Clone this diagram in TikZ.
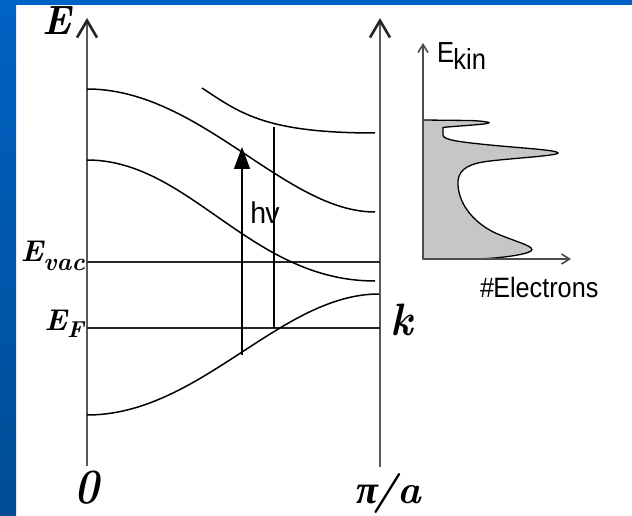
\documentclass[tikz,border=0pt]{standalone}
\usepackage{fontspec}
\setsansfont{Liberation Sans}
\newfontfamily\grkfont{Liberation Serif}
\usetikzlibrary{arrows.meta}
\definecolor{bluetop}{RGB}{0,98,196}
\definecolor{bluebot}{RGB}{0,76,148}
\definecolor{histfill}{RGB}{198,198,198}
\newcommand{\fsz}[1]{\fontsize{#1}{#1}\selectfont}
\begin{document}
\begin{tikzpicture}[x=1pt,y=-1pt,
  axisline/.style={line width=2pt,draw=black!65},
  axtip/.style={-{Straight Barb[length=17pt,width=20pt,line width=2.6pt,color=black!85]}},
  band/.style={line width=1.5pt,draw=black},
  level/.style={line width=1.6pt,draw=black!85},
  hvarrow/.style={line width=1.5pt,draw=black,-{Triangle[length=22pt,width=16pt]}},
  haxis/.style={line width=1.4pt,draw=black!70,-{Straight Barb[length=8pt,width=10pt,line width=1.6pt]}},
  lbl/.style={inner sep=0pt,font=\bfseries\itshape},
  sans/.style={inner sep=0pt,font=\sffamily}]
\useasboundingbox (0,0) rectangle (632,516);
\fill[white] (0,0) rectangle (632,516);
\shade[top color=bluetop,bottom color=bluebot] (0,0) rectangle (16,516);
\fill[bluetop] (0,0) rectangle (632,5);

% axes
\coordinate (L0) at (87,466); \coordinate (L1) at (87,18);
\coordinate (R0) at (380,467); \coordinate (R1) at (380,18);
\draw[axisline,axtip] (L0) -- (L1);
\draw[axisline,axtip] (R0) -- (R1);

% levels
\coordinate (vacL) at (87,262); \coordinate (vacR) at (380,262);
\coordinate (fL) at (87,328); \coordinate (fR) at (380,328);
\draw[level] (vacL) -- (vacR);
\draw[level] (fL) -- (fR);

% bands
\coordinate (a0) at (87,89);  \coordinate (a1) at (375,212);
\coordinate (b0) at (87,160); \coordinate (b1) at (375,281);
\coordinate (c0) at (87,415); \coordinate (c1) at (379,294);
\coordinate (d0) at (202,88); \coordinate (d1) at (375,133);
\draw[band] (a0) .. controls (200,89) and (285,212) .. (a1);
\draw[band] (b0) .. controls (190,160) and (250,281) .. (b1);
\draw[band] (c0) .. controls (200,415) and (280,294) .. (c1);
\draw[band] (d0) .. controls (240,113) and (265,133) .. (d1);

% transitions
\coordinate (vT) at (274,127); \coordinate (vB) at (274,328);
\draw[band] (vT) -- (vB);
\coordinate (hvB) at (242,355); \coordinate (hvT) at (242,147);
\draw[hvarrow] (hvB) -- (hvT);
\node[sans] (hv) at (265,212.5) {\scalebox{0.95}[1]{\fsz{30}h\kern-1ptv}};

% labels
\node[lbl] (lE) at (56.5,21) {\scalebox{1}[1.08]{\fsz{38}E}};
\node[lbl,anchor=base east] (lEvac) at (85,261.5) {\fsz{30}E\fsz{25}\raisebox{-9pt}{vac}};
\node[lbl,anchor=base east] (lEF) at (84,330) {\fsz{30}E\fsz{23}\raisebox{-7pt}{F}};
\node[lbl,anchor=base] (lk) at (402,335) {\scalebox{1}[1.08]{\fsz{42}k}};
\node[lbl,anchor=base] (l0) at (87,503) {\scalebox{0.95}[1.12]{\fsz{44}0}};
\node[lbl,anchor=base] (lpi) at (389,503) {\fsz{40}{\grkfont π}\kern-5pt/a};

% spectrum
\coordinate (hO) at (423,259); \coordinate (hY) at (423,43); \coordinate (hX) at (571,259);
\filldraw[fill=histfill,draw=black,line width=1.3pt]
 (423,120) -- (470,120.5) .. controls (484,121) and (492,122.5) .. (488,123.3)
 .. controls (480,125) and (455,126) .. (443,127.5)
 -- (443,135)
 .. controls (443,140) and (460,142) .. (490,145)
 .. controls (520,148) and (558,150) .. (558,153)
 .. controls (558,156) and (500,159) .. (483,162)
 .. controls (465,165) and (457,172) .. (458,185)
 .. controls (459,205) and (475,225) .. (500,235)
 .. controls (520,243) and (536,247) .. (531,251)
 .. controls (525,255) and (500,258) .. (480,259)
 -- (hO) -- cycle;
\draw[haxis] (hO) -- (hY);
\draw[haxis] (hO) -- (hX);
\node[sans,anchor=base west] (ekin) at (437,63) {\scalebox{0.88}[1]{\fsz{29}E\kern-1pt\raisebox{-7pt}{kin}}};
\node[sans,anchor=base west] (nel) at (480,297) {\scalebox{0.9}[1]{\fsz{28}\#\kern-1ptElectrons}};
\end{tikzpicture}
\end{document}
